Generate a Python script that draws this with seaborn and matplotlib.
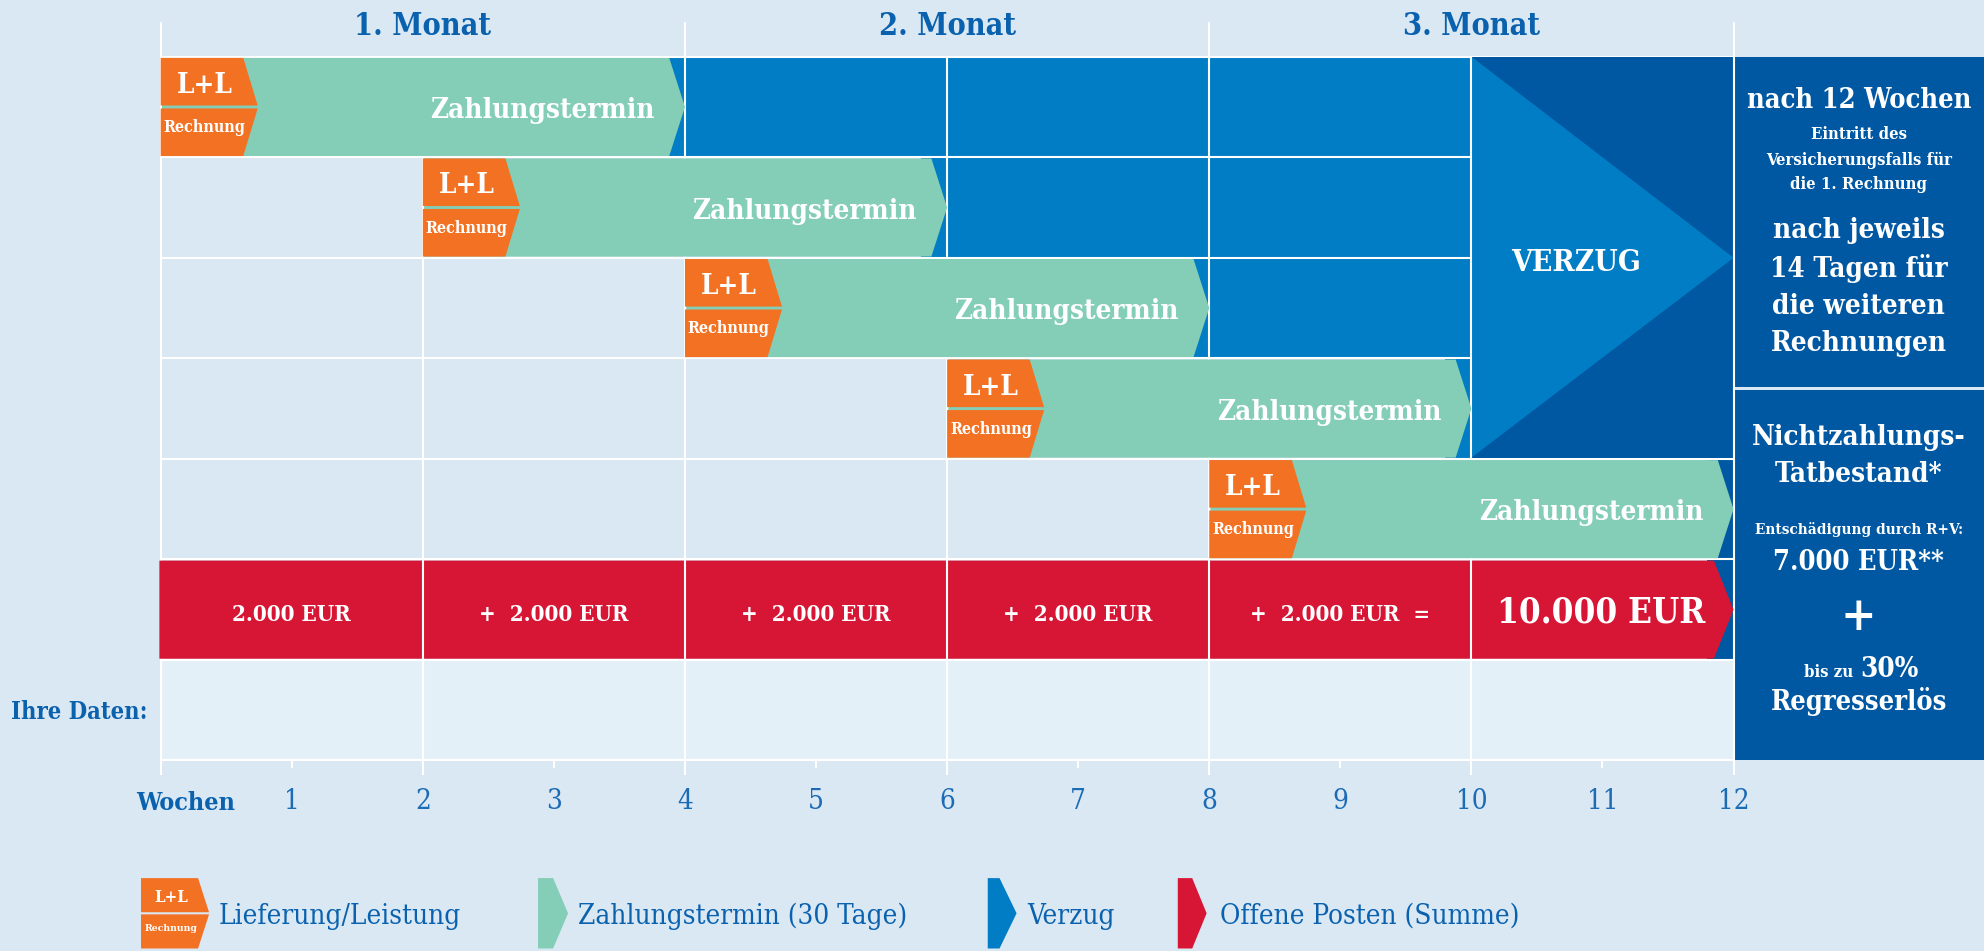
import os
import numpy as np
import pandas as pd
import seaborn as sns
import matplotlib.pyplot as plt
from matplotlib import font_manager as fm
from matplotlib.patches import Polygon, Rectangle

# ---- data -------------------------------------------------------------
months = ['1. Monat', '2. Monat', '3. Monat']
invoice_weeks = [0, 2, 4, 6, 8]            # L+L / Rechnung every 2 weeks
invoice_amounts = [2000, 2000, 2000, 2000, 2000]
payment_term_weeks = 4                      # Zahlungstermin (30 Tage)
verzug_arrow_weeks = [10, 12]               # big VERZUG arrow
claim_week = 12                             # nach 12 Wochen
week_ticks = list(range(0, 13))
week_labels = [''] + [str(w) for w in range(1, 13)]
compensation_eur = 7000
regress_pct = 30
legend_labels = ['Lieferung/Leistung', 'Zahlungstermin (30 Tage)', 'Verzug', 'Offene Posten (Summe)']

# ---- colours ----------------------------------------------------------
BG = '#DAE8F4'
LIGHT = '#E4F0F8'
ORANGE = '#F37122'
GREEN = '#84CDB6'
BLUE = '#007DC5'
DARK = '#0058A3'
RED = '#D71635'
TXT = '#0A62AF'

sns.set_theme(style="white", rc={"axes.facecolor": BG, "figure.facecolor": BG})

# condensed slab-ish font if there is one
FAM, STR, FS = 'DejaVu Serif', 'normal', 0.85
for key in ['DejaVuSerifCondensed', 'RobotoCondensed', 'LiberationSansNarrow']:
    hits = [f for f in fm.fontManager.ttflist if key in os.path.basename(f.fname).replace('-', '')]
    if hits:
        FAM, STR, FS = hits[0].name, hits[0].stretch, 1.0
        break
plt.rcParams['font.family'] = [FAM, 'DejaVu Sans']
plt.rcParams['font.stretch'] = STR


def fmt(v):
    return f"{v:,}".replace(',', '.')


def txt(ax, x, y, s, size, color='white', weight='bold', ha='center', va='center', z=10):
    ax.text(x, y, s, fontsize=size * FS, color=color, fontweight=weight,
            ha=ha, va=va, zorder=z, fontstretch=STR)


def chevron(ax, x0, x1, tip, y0, y1, color, z):
    ym = (y0 + y1) / 2
    ax.add_patch(Polygon([(x0, y0), (x1, y0), (tip, ym), (x1, y1), (x0, y1)],
                         closed=True, fc=color, ec='none', zorder=z))


def ll_box(ax, s, y0, y1, w, tip, z, big, small):
    ym = (y0 + y1) / 2
    g = 0.015 * (y1 - y0)
    ax.add_patch(Polygon([(s, y0), (s + w, y0), (s + tip, ym - g), (s, ym - g)],
                         closed=True, fc=ORANGE, ec='none', zorder=z))
    ax.add_patch(Polygon([(s, ym + g), (s + tip, ym + g), (s + w, y1), (s, y1)],
                         closed=True, fc=ORANGE, ec='none', zorder=z))
    h = y1 - y0
    txt(ax, s + w * 0.53, y0 + 0.28 * h, 'L+L', big, z=z + 1)
    txt(ax, s + w * 0.53, y0 + 0.71 * h, 'Rechnung', small, z=z + 1)


fig = plt.figure(figsize=(19.84, 9.51), dpi=100)
ax = fig.add_axes([0, 0, 1, 1])
XMIN, XMAX = -1.226, 13.911
ax.set_xlim(XMIN, XMAX)
ax.set_ylim(8.895, -0.564)

n = len(invoice_weeks)
red_row = n
data_row = n + 1
nrows = n + 2
e = 0.012

# backgrounds
ax.add_patch(Rectangle((0, data_row), claim_week, 1, fc=LIGHT, ec='none', zorder=0))

# Verzug (light blue) behind rows that fall overdue before the big arrow
for i, s in enumerate(invoice_weeks):
    due = s + payment_term_weeks
    if due <= verzug_arrow_weeks[0]:
        ax.add_patch(Rectangle((due - 0.2, i), verzug_arrow_weeks[0] - due + 0.2, 1,
                               fc=BLUE, ec='none', zorder=1))

# horizontal grid lines
for r in range(nrows + 1):
    ax.plot([0, claim_week], [r, r], color='white', lw=1.5, zorder=2)

# big VERZUG arrow
a0, a1 = verzug_arrow_weeks
ax.add_patch(Rectangle((a0, 0), a1 - a0, 4 - e, fc=DARK, ec='none', zorder=3))
ax.add_patch(Polygon([(a0, 0), (a1, 2), (a0, 4 - e)], closed=True, fc=BLUE, ec='none', zorder=3))
txt(ax, (a0 + a1) / 2 - 0.2, 2.05, 'VERZUG', 21.5, z=4)
# dark blue behind the last arrow tips
ax.add_patch(Rectangle((claim_week - 0.2, 4), 0.2, 2, fc=DARK, ec='none', zorder=1))

# vertical grid lines (every 2 weeks)
for w in range(0, claim_week + 1, 2):
    ax.plot([w, w], [0, nrows], color='white', lw=1.5, zorder=5)

# month header
for k, m in enumerate(months):
    txt(ax, 4 * k + 2, -0.30, m, 22, color=TXT)
for w in range(0, claim_week + 1, 4):
    ax.plot([w, w], [-0.34, 0], color='white', lw=1.5, zorder=5)

# invoices: L+L box + Zahlungstermin arrow
for i, s in enumerate(invoice_weeks):
    due = s + payment_term_weeks
    chevron(ax, s + 0.01, due - 0.12, due, i + e, i + 1 - e, GREEN, 6)
    txt(ax, due - 0.23, i + 0.535, 'Zahlungstermin', 20, ha='right', z=7)
    ll_box(ax, s, i + e, i + 1 - e, 0.63, 0.74, 8, 20, 11.5)

# open items row
chevron(ax, -0.01, claim_week - 0.15, claim_week, red_row + e, red_row + 1 - e, RED, 6)
for w in range(2, claim_week, 2):
    ax.plot([w, w], [red_row, red_row + 1], color='white', lw=1.5, zorder=7)
for i, (s, a) in enumerate(zip(invoice_weeks, invoice_amounts)):
    label = f"{fmt(a)} EUR" if i == 0 else f"+  {fmt(a)} EUR"
    if i == n - 1:
        label += "  ="
    txt(ax, s + 1, red_row + 0.55, label, 16)
txt(ax, (a0 + a1) / 2 - 0.01, red_row + 0.53, f"{fmt(sum(invoice_amounts))} EUR", 25)

# right info panel
ax.add_patch(Rectangle((claim_week, 0), XMAX - claim_week, 3.29, fc=DARK, ec='none', zorder=3))
ax.add_patch(Rectangle((claim_week, 3.32), XMAX - claim_week, nrows - 3.32, fc=DARK, ec='none', zorder=3))
cx = (claim_week + XMAX) / 2
panel = [(0.44, f'nach {claim_week} Wochen', 19.5),
         (0.77, 'Eintritt des', 12),
         (1.03, 'Versicherungsfalls für', 12),
         (1.27, 'die 1. Rechnung', 12),
         (1.73, 'nach jeweils', 20),
         (2.11, '14 Tagen für', 20),
         (2.48, 'die weiteren', 20),
         (2.85, 'Rechnungen', 20),
         (3.79, 'Nichtzahlungs-', 20),
         (4.16, 'Tatbestand*', 20),
         (4.70, 'Entschädigung durch R+V:', 11),
         (5.03, f'{fmt(compensation_eur)} EUR**', 19.5),
         (5.57, '+', 34),
         (6.41, 'Regresserlös', 19.5)]
for y, s, size in panel:
    txt(ax, cx, y, s, size)
txt(ax, cx - 0.04, 6.17, 'bis zu', 12, ha='right', va='baseline')
txt(ax, cx + 0.01, 6.17, f'{regress_pct}%', 20, ha='left', va='baseline')

# left labels
txt(ax, -0.10, data_row + 0.52, 'Ihre Daten:', 17, color=TXT, ha='right')
txt(ax, 0.19, 7.42, 'Wochen', 18, color=TXT)

# week axis (real axis, spine moved to the bottom of the grid)
sns.despine(ax=ax, left=True, top=True, right=True)
ax.spines['bottom'].set_position(('data', nrows))
ax.spines['bottom'].set_bounds(0, claim_week)
ax.spines['bottom'].set_color('white')
ax.spines['bottom'].set_linewidth(1.5)
ax.spines['bottom'].set_zorder(5)
ax.set_yticks([])
ax.set_xticks(week_ticks[::2])
ax.set_xticklabels(week_labels[::2])
ax.set_xticks(week_ticks[1::2], minor=True)
ax.set_xticklabels(week_labels[1::2], minor=True)
ax.tick_params(axis='x', which='major', direction='out', length=11, width=1.5,
               color='white', pad=9, labelsize=20 * FS, labelcolor='#1B6BB5')
ax.tick_params(axis='x', which='minor', direction='out', length=6, width=1.5,
               color='white', pad=14, labelsize=20 * FS, labelcolor='#1B6BB5')
ax.tick_params(axis='x', which='both', bottom=True)
ax.grid(False)

# legend
ly0, ly1 = 8.17, 8.87
ll_box(ax, -0.150, ly0, ly1, 0.435, 0.519, 8, 12, 7.5)
leg = [(2.879, 2.994, 3.108, GREEN), (6.31, 6.40, 6.53, BLUE), (7.76, 7.87, 7.98, RED)]
for x0, x1, tip, col in leg:
    chevron(ax, x0, x1, tip, ly0, ly1, col, 8)
for x, lab in zip([0.445, 3.184, 6.61, 8.08], legend_labels):
    txt(ax, x, 8.55, lab, 20, color=TXT, weight='normal', ha='left')

fig.savefig('out.png', dpi=100, facecolor=BG)
